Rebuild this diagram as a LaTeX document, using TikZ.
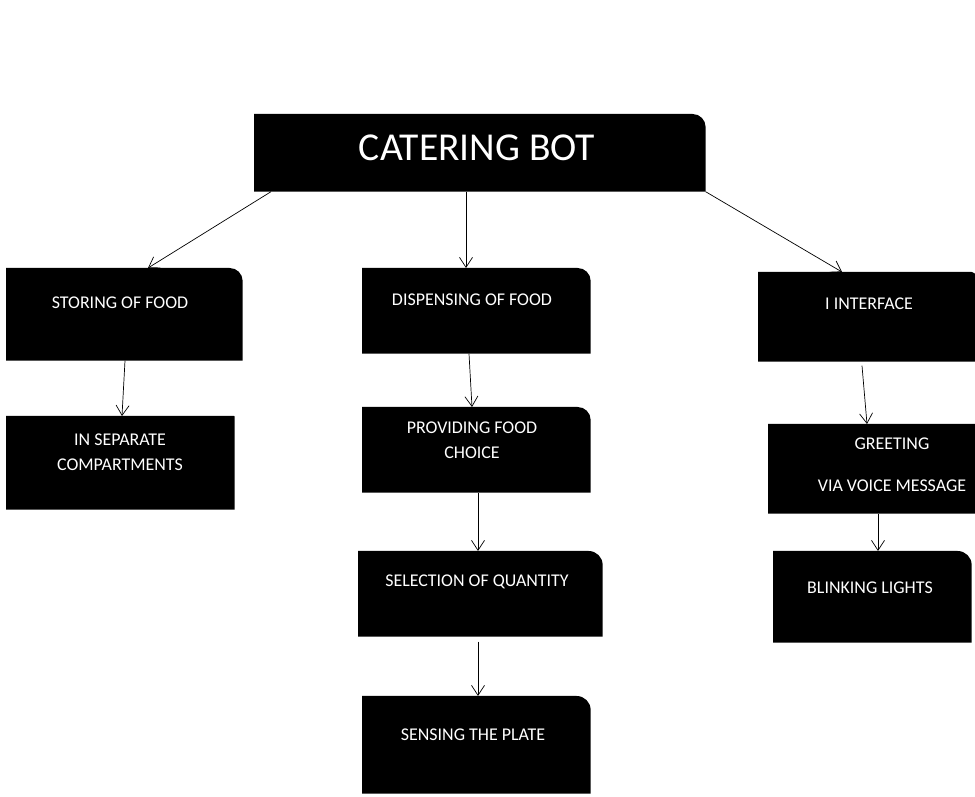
\documentclass[tikz,border=0pt]{standalone}
\usepackage{fontspec}
\setmainfont{Carlito}
\usetikzlibrary{arrows.meta,calc,backgrounds}

\begin{document}
\begin{tikzpicture}[
  x=0.02cm, y=-0.02cm,
  blk/.style={rectangle,anchor=north west,inner sep=0pt},
  lbl/.style={text=white,align=center,inner sep=0pt,font=\fontsize{10.2}{14.2}\selectfont},
  ttl/.style={text=white,inner sep=0pt,font=\fontsize{22.5}{26}\selectfont},
  arr/.style={-{Straight Barb[length=2mm,width=2.6mm]},thin}
]
\useasboundingbox (0,0) rectangle (975,797);

% Boxes
\node[blk,minimum width=9.02cm,minimum height=1.54cm] (bot)   at (254,114) {};
\node[blk,minimum width=4.72cm,minimum height=1.84cm] (store) at (6,268)   {};
\node[blk,minimum width=4.56cm,minimum height=1.86cm] (sep)   at (6,416)   {};
\node[blk,minimum width=4.56cm,minimum height=1.70cm] (disp)  at (362,268) {};
\node[blk,minimum width=4.56cm,minimum height=1.70cm] (prov)  at (362,407) {};
\node[blk,minimum width=4.88cm,minimum height=1.70cm] (qty)   at (358,551) {};
\node[blk,minimum width=4.56cm,minimum height=1.94cm] (sense) at (362,696) {};
\node[blk,minimum width=4.34cm,minimum height=1.78cm] (iface) at (758,272) {};
\node[blk,minimum width=4.14cm,minimum height=1.78cm] (greet) at (768,424) {};
\node[blk,minimum width=3.96cm,minimum height=1.82cm] (blink) at (773,551) {};

\begin{scope}[on background layer]
\foreach \n/\r in {bot/0.26cm,store/0.26cm,sep/0.01cm,disp/0.26cm,prov/0.26cm,
                   qty/0.28cm,sense/0.28cm,iface/0.08cm,greet/0.01cm,blink/0.28cm}
  \fill (\n.south west) -- (\n.north west) -- ([xshift=-\r]\n.north east)
        arc[start angle=90,end angle=0,radius=\r] -- (\n.south east) -- cycle;
\end{scope}

% Texts
\node[ttl] (botT)   at (477,148) {CATERING BOT};
\node[lbl] (storeT) at (120,303) {STORING OF FOOD};
\node[lbl] (sepT)   at (120,452) {IN SEPARATE\\COMPARTMENTS};
\node[lbl] (dispT)  at (472,300) {DISPENSING OF FOOD};
\node[lbl] (provT)  at (472,440) {PROVIDING FOOD\\CHOICE};
\node[lbl] (qtyT)   at (477,582) {SELECTION OF QUANTITY};
\node[lbl] (senseT) at (473,735) {SENSING THE PLATE};
\node[lbl] (ifaceT) at (869,304) {I INTERFACE};
\node[lbl] (greetT) at (892,465) {GREETING\\[0.34cm]VIA VOICE MESSAGE};
\node[lbl] (blinkT) at (870,588) {BLINKING LIGHTS};

% Arrows
\draw[arr] ($(bot.south west)+(17,0)$)    -- ($(store.north west)+(142,0)$);
\draw[arr] ($(bot.south west)+(212,0)$)   -- ($(disp.north west)+(104,0)$);
\draw[arr] (bot.south east)               -- ($(iface.north west)+(84,0)$);
\draw[arr] ($(store.south west)+(119,0)$) -- ($(sep.north west)+(116,0)$);
\draw[arr] ($(disp.south west)+(107,0)$)  -- ($(prov.north west)+(110,0)$);
\draw[arr] ($(prov.south west)+(116,0)$)  -- ($(qty.north west)+(120,0)$);
\draw[arr] ($(qty.south west)+(120,5)$)   -- ($(sense.north west)+(116,0)$);
\draw[arr] ($(iface.south west)+(104,4)$) -- ($(greet.north west)+(99,0)$);
\draw[arr] ($(greet.south west)+(110,0)$) -- ($(blink.north west)+(105,0)$);

\end{tikzpicture}
\end{document}
